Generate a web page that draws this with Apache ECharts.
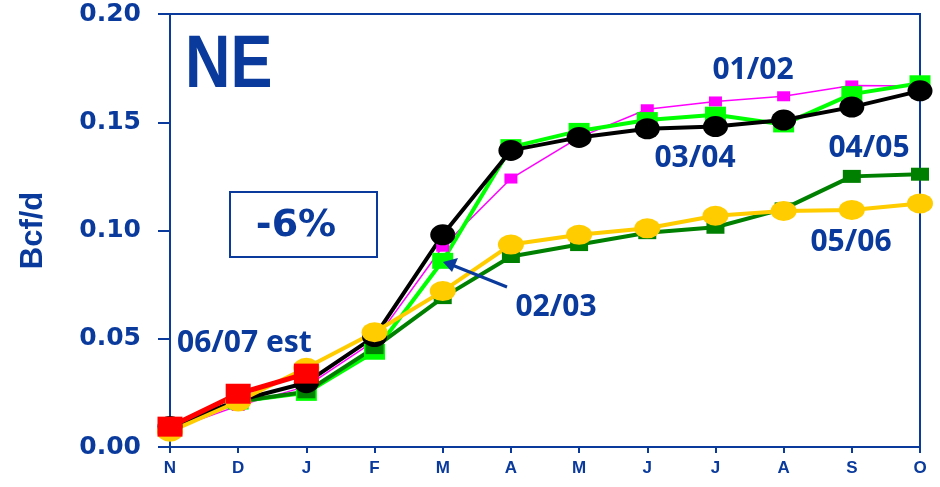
<!DOCTYPE html>
<html>
<head>
<meta charset="utf-8">
<script src="https://cdn.jsdelivr.net/npm/echarts@6/dist/echarts.min.js"></script>
<style>
  html, body { margin: 0; padding: 0; background: #fff; }
  #main { width: 940px; height: 487px; }
</style>
</head>
<body>
<div id="main"></div>
<script>
// months Nov -> Oct
let months = ['N', 'D', 'J', 'F', 'M', 'A', 'M', 'J', 'J', 'A', 'S', 'O']
let yTicks = [0, 0.05, 0.10, 0.15, 0.20]

let s0102 = [0.008, 0.019, 0.028, 0.049, 0.0925, 0.124, 0.143, 0.156, 0.1596, 0.162, 0.167, 0.1667]
let s0203 = [0.009, 0.021, 0.025, 0.044, 0.086, 0.1385, 0.146, 0.151, 0.1535, 0.149, 0.163, 0.168]
let s0304 = [0.0095, 0.0215, 0.0297, 0.051, 0.098, 0.137, 0.143, 0.147, 0.148, 0.151, 0.157, 0.1645]
let s0405 = [0.009, 0.021, 0.0255, 0.0459, 0.069, 0.088, 0.0935, 0.099, 0.1015, 0.11, 0.125, 0.126]
let s0506 = [0.0071, 0.021, 0.0366, 0.053, 0.072, 0.0935, 0.098, 0.101, 0.1068, 0.109, 0.1095, 0.1125]
let s0607 = [0.0094, 0.0246, 0.0339]

let blue = '#0a3a9c'
let annoFont = 'bold 30px "Noto Sans"'

function lineSeries (name, data, color, width, symbol, size) {
    return {
        name: name,
        type: 'line',
        data: data,
        symbol: symbol,
        symbolSize: size,
        showSymbol: true,
        animation: false,
        lineStyle: { color: color, width: width },
        itemStyle: { color: color },
    }
}

let option = {
    backgroundColor: '#ffffff',
    animation: false,
    grid: {
        left: 170,
        right: 20,
        top: 14,
        bottom: 40,
        outerBoundsMode: 'none',
        containLabel: false,
        show: true,
        borderColor: blue,
        borderWidth: 2,
    },
    xAxis: {
        type: 'category',
        data: months,
        boundaryGap: false,
        axisLine: { lineStyle: { color: blue, width: 2 } },
        axisTick: { length: 6, lineStyle: { color: blue, width: 2 } },
        axisLabel: {
            color: blue,
            fontFamily: 'Liberation Sans',
            fontWeight: 'bold',
            fontSize: 17,
            margin: 13,
            interval: 0,
        },
    },
    yAxis: {
        type: 'value',
        min: yTicks[0],
        max: yTicks[yTicks.length - 1],
        interval: 0.05,
        name: 'Bcf/d',
        nameLocation: 'middle',
        nameRotate: 90,
        nameGap: 121,
        nameTextStyle: {
            color: blue,
            fontFamily: 'Liberation Sans',
            fontWeight: 'bold',
            fontSize: 31,
        },
        splitLine: { show: false },
        axisLine: { show: true, lineStyle: { color: blue, width: 2 } },
        axisTick: { show: true, length: 12, lineStyle: { color: blue, width: 2 } },
        axisLabel: {
            color: blue,
            fontFamily: 'DejaVu Sans',
            fontWeight: 'bold',
            fontSize: 25,
            margin: 29,
            formatter: function (v) { return v.toFixed(2) },
        },
    },
    series: [
        lineSeries('01/02', s0102, '#ff00ff', 1.5, 'rect', [13, 10]),
        lineSeries('02/03', s0203, '#00ff00', 4, 'rect', [21, 16]),
        lineSeries('04/05', s0405, '#008000', 4, 'rect', [18, 13]),
        lineSeries('03/04', s0304, '#000000', 4, 'circle', [25, 21]),
        lineSeries('05/06', s0506, '#ffcc00', 4, 'circle', [26, 20]),
        lineSeries('06/07 est', s0607, '#ff0000', 5, 'rect', [25, 20]),
    ],
    graphic: [
        { type: 'text', x: 185, y: 67, scaleX: 0.85, z: 100,
          style: { text: 'NE', fill: blue, font: 'bold 74px "Liberation Sans"', textVerticalAlign: 'middle' } },
        { type: 'rect', z: 100,
          shape: { x: 230, y: 192, width: 147, height: 65 },
          style: { fill: 'none', stroke: blue, lineWidth: 2 } },
        { type: 'text', x: 296, y: 226, z: 100,
          style: { text: '-6%', fill: blue, font: 'bold 38px "DejaVu Sans"', textAlign: 'center', textVerticalAlign: 'middle' } },
        { type: 'text', x: 753, y: 70, z: 100,
          style: { text: '01/02', fill: blue, font: annoFont, textAlign: 'center', textVerticalAlign: 'middle' } },
        { type: 'text', x: 695, y: 158, z: 100,
          style: { text: '03/04', fill: blue, font: annoFont, textAlign: 'center', textVerticalAlign: 'middle' } },
        { type: 'text', x: 869, y: 148, z: 100,
          style: { text: '04/05', fill: blue, font: annoFont, textAlign: 'center', textVerticalAlign: 'middle' } },
        { type: 'text', x: 851, y: 242, z: 100,
          style: { text: '05/06', fill: blue, font: annoFont, textAlign: 'center', textVerticalAlign: 'middle' } },
        { type: 'text', x: 556, y: 307, z: 100,
          style: { text: '02/03', fill: blue, font: annoFont, textAlign: 'center', textVerticalAlign: 'middle' } },
        { type: 'text', x: 177, y: 343, z: 100,
          style: { text: '06/07 est', fill: blue, font: annoFont, textAlign: 'left', textVerticalAlign: 'middle' } },
        { type: 'line', z: 100,
          shape: { x1: 507, y1: 287, x2: 452, y2: 265 },
          style: { stroke: blue, lineWidth: 3 } },
        { type: 'polygon', z: 100,
          shape: { points: [[443, 262], [458, 258], [452, 272]] },
          style: { fill: blue } },
    ],
}

let myChart = echarts.init(document.getElementById('main'))
myChart.setOption(option)
</script>
</body>
</html>
